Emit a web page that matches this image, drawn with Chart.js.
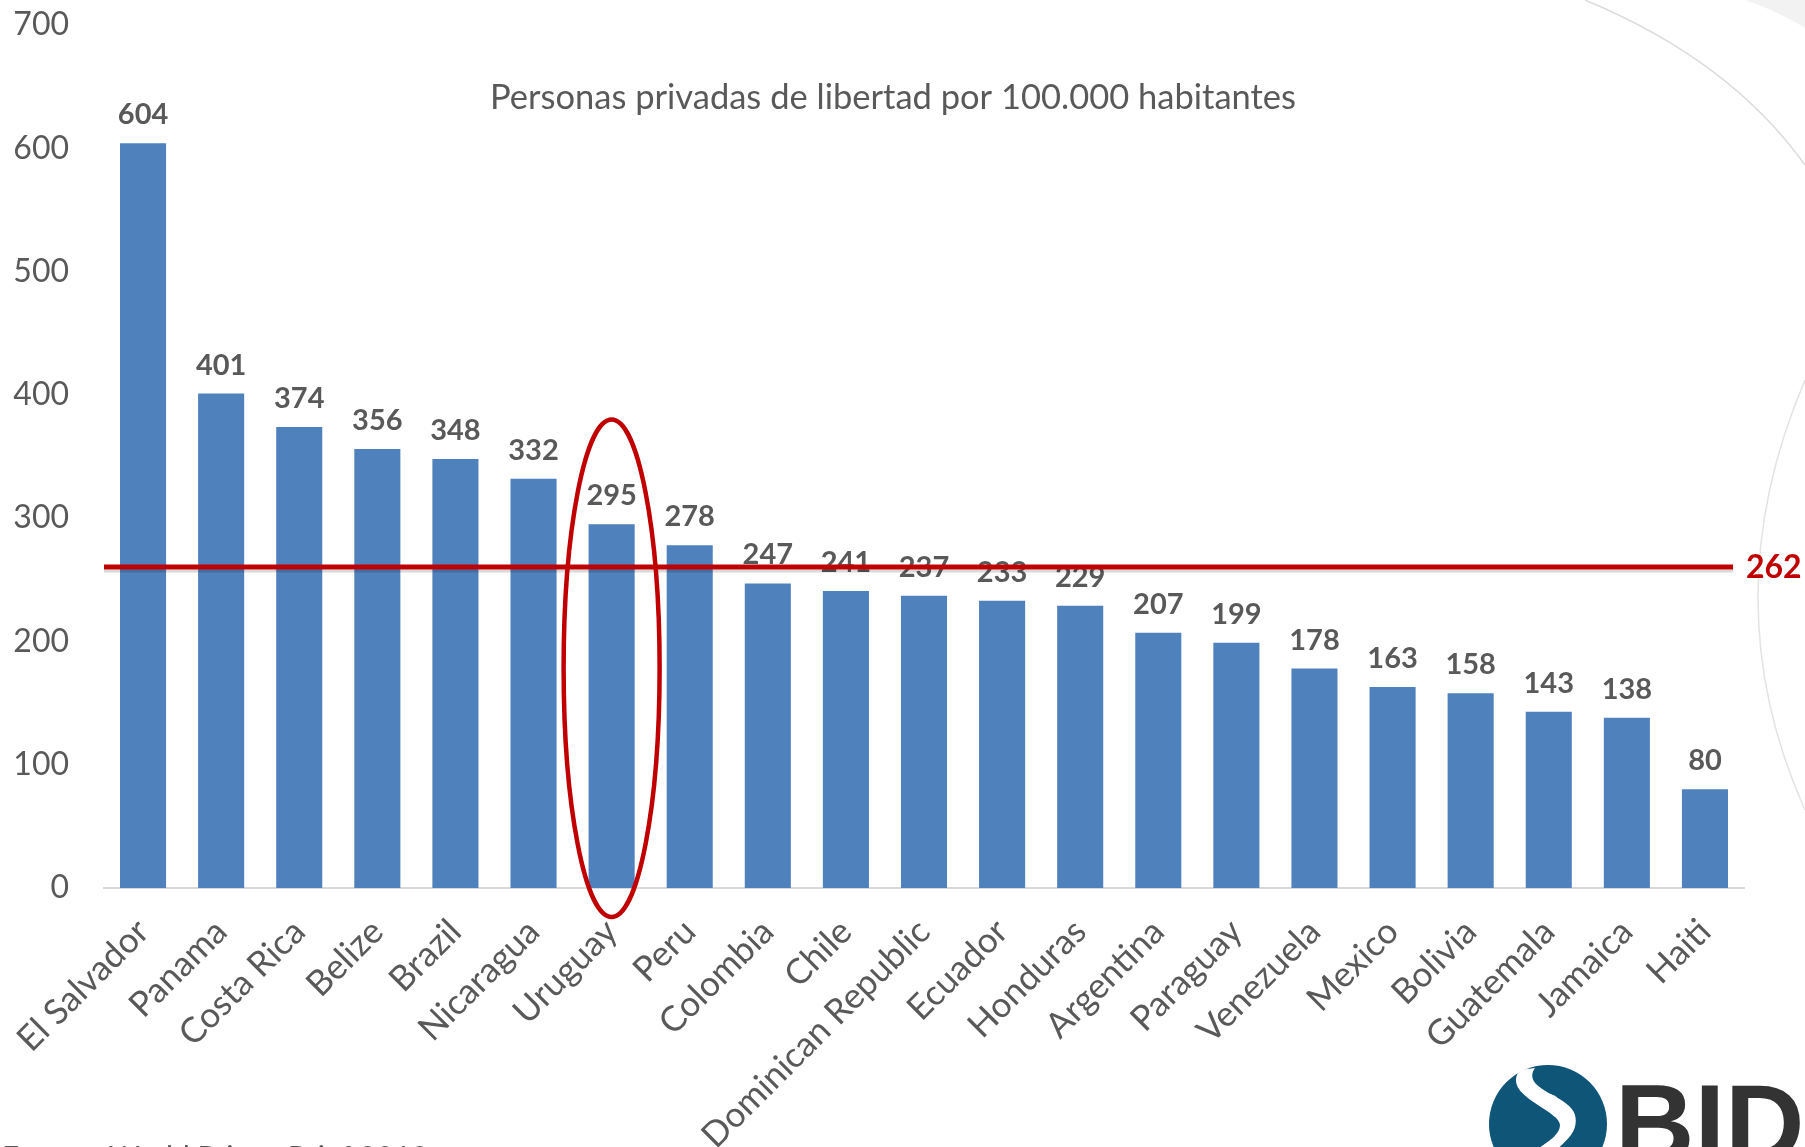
<!DOCTYPE html>
<html>
<head>
<meta charset="utf-8">
<script src="https://cdn.jsdelivr.net/npm/chart.js@4.4.1/dist/chart.umd.min.js"></script>
<style>
html,body{margin:0;padding:0;background:#fff;}
#wrap{position:relative;width:1805px;height:1147px;overflow:hidden;}
canvas{display:block;}
</style>
</head>
<body>
<div id="wrap"><canvas id="c" width="1805" height="1147"></canvas></div>
<script>
const categories = ["El Salvador","Panama","Costa Rica","Belize","Brazil","Nicaragua","Uruguay","Peru","Colombia","Chile","Dominican Republic","Ecuador","Honduras","Argentina","Paraguay","Venezuela","Mexico","Bolivia","Guatemala","Jamaica","Haiti"];
const values = [604,401,374,356,348,332,295,278,247,241,237,233,229,207,199,178,163,158,143,138,80];
const averageValue = 262;
const highlightIndex = 6;
const yTicks = [0,100,200,300,400,500,600,700];
const titleText = "Personas privadas de libertad por 100.000 habitantes";
const sourceText = "Fuente: World Prison Brief 2018";

const FONT = "Lato, 'Open Sans', sans-serif";
const GRAY = "#595959";
const RED = "#C00000";

const overlay = {
  id: 'overlay',
  beforeDraw(chart) {
    const ctx = chart.ctx;
    ctx.save();
    ctx.strokeStyle = "#dcdcdc";
    ctx.lineWidth = 1.5;
    ctx.beginPath();
    ctx.moveTo(1585, 0);
    ctx.quadraticCurveTo(1730, 60, 1805, 165);
    ctx.stroke();
    ctx.fillStyle = "#f2f2f2";
    ctx.beginPath();
    ctx.moveTo(1745, 0);
    ctx.quadraticCurveTo(1780, 12, 1805, 28);
    ctx.lineTo(1805, 0);
    ctx.closePath();
    ctx.fill();
    ctx.strokeStyle = "#e3e3e3";
    ctx.beginPath();
    ctx.moveTo(1805, 380);
    ctx.quadraticCurveTo(1711, 600, 1805, 810);
    ctx.stroke();
    ctx.restore();
  },
  afterDatasetsDraw(chart) {
    const ctx = chart.ctx;
    const meta = chart.getDatasetMeta(0);
    const xs = chart.scales.x, ys = chart.scales.y;
    ctx.save();
    ctx.font = "bold 29px " + FONT;
    ctx.fillStyle = GRAY;
    ctx.textAlign = "center";
    ctx.textBaseline = "alphabetic";
    meta.data.forEach((bar, i) => {
      ctx.fillText(String(values[i]), bar.x, bar.y - 19);
    });
    ctx.font = "34.5px " + FONT;
    ctx.fillStyle = GRAY;
    ctx.textAlign = "center";
    ctx.textBaseline = "middle";
    ctx.fillText(titleText, 893, 98);
    const yAvg = ys.getPixelForValue(averageValue) + 2;
    const xEnd = 1733;
    ctx.strokeStyle = "rgba(0,0,0,0.15)";
    ctx.lineWidth = 3;
    ctx.beginPath();
    ctx.moveTo(chart.chartArea.left, yAvg + 4);
    ctx.lineTo(xEnd, yAvg + 4);
    ctx.stroke();
    ctx.strokeStyle = RED;
    ctx.lineWidth = 5;
    ctx.beginPath();
    ctx.moveTo(chart.chartArea.left, yAvg);
    ctx.lineTo(xEnd, yAvg);
    ctx.stroke();
    ctx.font = "bold 32px " + FONT;
    ctx.fillStyle = RED;
    ctx.textAlign = "left";
    ctx.textBaseline = "middle";
    ctx.fillText(String(averageValue), 1746, yAvg + 1);
    const cx = xs.getPixelForValue(highlightIndex);
    const top = ys.getPixelForValue(380);
    const bottom = ys.getPixelForValue(-23.5);
    ctx.strokeStyle = RED;
    ctx.lineWidth = 4.5;
    ctx.beginPath();
    ctx.ellipse(cx, (top + bottom) / 2, 48, (bottom - top) / 2, 0, 0, Math.PI * 2);
    ctx.stroke();
    ctx.font = "30px " + FONT;
    ctx.fillStyle = GRAY;
    ctx.textAlign = "left";
    ctx.textBaseline = "alphabetic";
    ctx.fillText(sourceText, 2, 1168);
    ctx.fillStyle = "#0E5577";
    ctx.beginPath();
    ctx.arc(1548, 1124, 59, 0, Math.PI * 2);
    ctx.fill();
    ctx.fillStyle = "#ffffff";
    ctx.beginPath();
    ctx.moveTo(1520, 1070);
    ctx.bezierCurveTo(1500, 1095, 1560, 1110, 1560, 1125);
    ctx.bezierCurveTo(1560, 1140, 1530, 1150, 1525, 1160);
    ctx.lineTo(1545, 1160);
    ctx.bezierCurveTo(1560, 1145, 1580, 1135, 1575, 1115);
    ctx.bezierCurveTo(1570, 1095, 1520, 1090, 1535, 1068);
    ctx.closePath();
    ctx.fill();
    ctx.beginPath();
    ctx.ellipse(1550, 1098, 9, 4, 0.3, 0, Math.PI * 2);
    ctx.fill();
    ctx.font = "bold 110px 'Liberation Sans', Arial, sans-serif";
    ctx.fillStyle = "#333333";
    ctx.textAlign = "left";
    ctx.textBaseline = "alphabetic";
    ctx.fillText("BID", 1615, 1161);
    ctx.restore();
  }
};

new Chart(document.getElementById('c'), {
  type: 'bar',
  data: {
    labels: categories,
    datasets: [{
      data: values,
      backgroundColor: "#4F81BD",
      borderWidth: 0,
      barPercentage: 0.59,
      categoryPercentage: 1.0
    }]
  },
  options: {
    responsive: false,
    animation: false,
    devicePixelRatio: 1,
    layout: { padding: { top: 25, right: 61, left: 0, bottom: 0 } },
    plugins: { legend: { display: false }, tooltip: { enabled: false }, title: { display: false } },
    scales: {
      x: {
        grid: { display: false, drawTicks: false },
        border: { display: true, color: "#D9D9D9", width: 2 },
        ticks: {
          color: GRAY,
          font: { family: FONT, size: 35 },
          minRotation: 45, maxRotation: 45,
          padding: 23,
          autoSkip: false
        },
        afterFit(s) { s.height = 1147 - 888; s.paddingTop = 0; s.paddingBottom = 0; s.paddingLeft = 0; s.paddingRight = 0; }
      },
      y: {
        min: 0, max: 700,
        grid: { display: false, drawTicks: false },
        border: { display: false },
        afterBuildTicks(s) { s.ticks = yTicks.map(v => ({ value: v })); },
        ticks: {
          color: GRAY,
          font: { family: FONT, size: 32 },
          padding: 35
        },
        afterFit(s) { s.width = 104; s.paddingTop = 0; s.paddingBottom = 0; }
      }
    }
  },
  plugins: [overlay]
});
</script>
</body>
</html>
